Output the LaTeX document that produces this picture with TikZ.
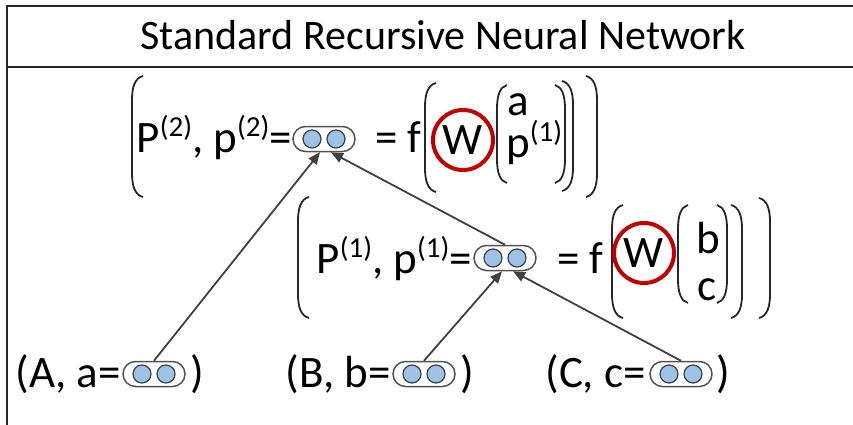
\documentclass[tikz,border=0pt]{standalone}
\usepackage{fontspec}
\setmainfont{Carlito}
\usetikzlibrary{arrows.meta, positioning}
\definecolor{rnnred}{HTML}{C00000}
\definecolor{rnnblue}{HTML}{9DC3E6}
\definecolor{rnngray}{HTML}{404040}

\newcommand{\sups}[1]{\raisebox{16pt}{\fontsize{29}{30}\selectfont(#1)}}
\newcommand{\vecnode}[2]{%
  \node[vecbox] (#1) at (#2) {};
  \node[unit] (#1-l) at ([xshift=-12pt]#1.center) {};
  \node[unit] (#1-r) at ([xshift=12pt]#1.center) {};
}

\begin{document}
\begin{tikzpicture}[x=1pt, y=-1pt,
    heading/.style={font=\fontsize{42}{50}\selectfont, inner sep=0pt},
    txt/.style={font=\fontsize{45}{52}\selectfont, inner sep=0pt},
    vecbox/.style={draw=rnngray!90, fill=white, rounded corners=12.5pt,
                   minimum width=62pt, minimum height=25pt, line width=1.5pt, inner sep=0pt},
    unit/.style={circle, draw=rnngray, fill=rnnblue, minimum size=18pt,
                 inner sep=0pt, line width=1.2pt},
    wcirc/.style={circle, draw=rnnred, line width=4pt, minimum size=60pt},
    link/.style={-{Triangle[length=12pt, width=10pt]}, line width=1.8pt, rnngray},
    parline/.style={line width=1.8pt, black!85},
    frame/.style={line width=2pt, black!85},
]
    \useasboundingbox (0,0) rectangle (853,425);

    % frame and title
    \draw[frame] (7,425) -- (7,6) -- (853,6);
    \draw[frame] (7,67) -- (853,67);
    \node[heading, anchor=base] (title) at (443,50) {Standard Recursive Neural Network};

    % big brackets
    \foreach \px/\ya/\yb/\d in {132/76/197/11, 425/83/192/11, 497/85/183/10,
                                565/85/183/-10, 573/81/191/-11, 597/76/197/-11,
                                298/197/318/11, 612/205/318/11, 678/205/303/10,
                                727/205/303/-10, 742/205/318/-11, 770/198/318/-11}
        \draw[parline] (\px+\d,\ya) .. controls (\px+0.3*\d,\ya+2) and (\px,\ya+10) .. (\px,\ya+24)
            -- (\px,\yb-24) .. controls (\px,\yb-10) and (\px+0.3*\d,\yb-2) .. (\px+\d,\yb);

    % parent p2
    \node[txt, anchor=base east] (p2) at (292,152) {P\sups{2}, p\sups{2}=};
    \vecnode{vtop}{324,139}
    \node[txt, anchor=base west] (f2) at (375,152) {= f};
    \node[wcirc, txt] (w2) at (463,140) {W};
    \node[txt, anchor=base] (a2) at (518,115) {a};
    \node[txt, anchor=base west] (q2) at (506,157) {p\sups{1}};

    % parent p1
    \node[txt, anchor=base east] (p1) at (472,273) {P\sups{1}, p\sups{1}=};
    \vecnode{vmid}{505,258}
    \node[txt, anchor=base west] (f1) at (557,273) {= f};
    \node[wcirc, txt] (w1) at (644,253) {W};
    \node[txt, anchor=base] (b1) at (708,253) {b};
    \node[txt, anchor=base] (c1) at (707,300) {c};

    % leaves
    \node[txt, anchor=base east] (la) at (121,387) {(A, a=};
    \vecnode{va}{154,374}
    \node[txt, anchor=base west] (ra) at (190,387) {)};
    \node[txt, anchor=base east] (lb) at (391,387) {(B, b=};
    \vecnode{vb}{424,374}
    \node[txt, anchor=base west] (rb) at (460,387) {)};
    \node[txt, anchor=base east] (lc) at (646,387) {(C, c=};
    \vecnode{vc}{681,374}
    \node[txt, anchor=base west] (rc) at (716,387) {)};

    % composition
    \draw[link] (va.north) -- ([xshift=-4pt]vtop.south);
    \draw[link] (vmid.north) -- ([xshift=7pt]vtop.south);
    \draw[link] (vb.north) -- ([xshift=-3pt]vmid.south);
    \draw[link] (vc.north) -- ([xshift=8pt]vmid.south);
\end{tikzpicture}
\end{document}
